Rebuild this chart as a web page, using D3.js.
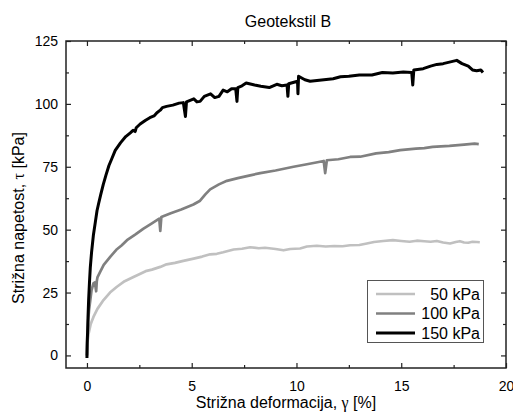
<!DOCTYPE html>
<html>
<head>
<meta charset="utf-8">
<script src="https://cdn.jsdelivr.net/npm/d3@7"></script>
<style>
  body { margin: 0; background: #fff; }
  text { font-family: "Liberation Sans", Arial, sans-serif; fill: #000; }
</style>
</head>
<body>
<div id="chart"></div>
<script>
// values: [strain %, shear stress kPa]
const series50 = [
  [0, 0], [0.02, 5], [0.08, 8.7], [0.18, 12.5], [0.31, 15.3], [0.5, 18.5], [0.79, 22],
  [1.1, 25], [1.43, 27.3], [1.8, 29.5], [2.22, 31.2], [2.5, 32.3], [2.8, 33.5], [3.1, 34.1],
  [3.5, 35.2], [3.8, 36.2], [4.2, 36.8], [4.6, 37.6], [5.09, 38.5], [5.5, 39.3], [5.88, 40.2],
  [6.2, 40.4], [6.5, 41], [7.0, 42.1], [7.4, 42.4], [7.79, 43], [8.2, 42.6], [8.5, 42.8],
  [9.0, 42.3], [9.38, 41.8], [9.7, 42.3], [10.17, 42.5], [10.5, 43.3], [10.97, 43.6],
  [11.4, 43.3], [11.8, 43.5], [12.2, 43.4], [12.56, 43.8], [13.0, 43.9], [13.36, 44.5],
  [13.7, 45.1], [14.14, 45.5], [14.6, 45.8], [15.0, 45.5], [15.4, 45.2], [15.74, 45.6],
  [16.1, 45.4], [16.4, 45.2], [16.7, 45.5], [17.0, 44.9], [17.33, 44.5], [17.6, 45.1],
  [17.8, 45.4], [18.0, 44.9], [18.2, 44.8], [18.4, 45.2], [18.6, 45.1], [18.75, 45]
];
const series100 = [
  [0, 0], [0.03, 8], [0.06, 14], [0.1, 18], [0.16, 22], [0.22, 26], [0.31, 28.6], [0.38, 29],
  [0.44, 25.5], [0.47, 29.5], [0.5, 31], [0.63, 33.2], [0.8, 36], [1.11, 39.2], [1.4, 42],
  [1.65, 43.7], [1.91, 45.8], [2.3, 48], [2.7, 50.4], [3.1, 52.5], [3.45, 54.4], [3.5, 49.5],
  [3.55, 55], [4.0, 56.5], [4.5, 58], [5.08, 60], [5.4, 61.5], [5.65, 64], [5.88, 66],
  [6.3, 68], [6.68, 69.4], [7.2, 70.5], [7.79, 71.6], [8.27, 72.5], [9.0, 73.5], [9.86, 75],
  [10.5, 76], [11.0, 76.8], [11.3, 77.3], [11.37, 72.5], [11.45, 77.6], [12.0, 78],
  [12.56, 78.9], [13.04, 79], [13.8, 80.3], [14.4, 80.8], [14.95, 81.6], [15.7, 82.2],
  [16.1, 82.4], [16.5, 82.9], [17.3, 83.3], [18.0, 83.8], [18.5, 84.2], [18.7, 84]
];
const series150 = [
  [0, -1], [0.01, 5], [0.03, 9], [0.05, 15], [0.08, 22], [0.12, 29], [0.16, 35], [0.22, 41],
  [0.31, 48], [0.4, 53], [0.48, 57.5], [0.56, 60.5], [0.66, 64], [0.78, 68], [0.9, 71.5],
  [1.05, 75.5], [1.2, 78.5], [1.35, 81.5], [1.6, 84.5], [1.85, 87], [2.07, 88.5], [2.2, 89.5],
  [2.3, 89], [2.35, 90.5], [2.54, 92], [2.8, 93.5], [3.0, 94.5], [3.2, 95.2], [3.34, 96.5],
  [3.5, 97.5], [3.6, 98.5], [3.8, 99], [4.1, 99.5], [4.4, 100.3], [4.6, 100.5], [4.7, 95],
  [4.75, 100.8], [5.1, 102], [5.25, 100.8], [5.4, 101], [5.6, 103], [5.9, 104], [6.1, 102.5],
  [6.3, 103], [6.5, 105.5], [6.7, 104.8], [6.9, 106], [7.1, 106], [7.16, 101], [7.2, 106.5],
  [7.4, 107.2], [7.6, 108.3], [8.0, 107.5], [8.3, 107], [8.7, 106.5], [9.06, 107.8],
  [9.3, 107.2], [9.55, 107.5], [9.59, 103], [9.63, 108], [10.05, 109], [10.07, 104],
  [10.1, 111], [10.4, 109.6], [10.65, 109], [11.2, 109.5], [11.75, 110], [12.1, 110.8],
  [12.5, 111], [13.0, 111.5], [13.6, 111.5], [14.1, 112.5], [14.6, 112.3], [15.1, 112.7],
  [15.5, 112.5], [15.55, 107.5], [15.6, 113.5], [16.05, 114], [16.4, 115], [16.7, 115.7],
  [17.0, 116], [17.4, 116.8], [17.65, 117.3], [17.9, 116], [18.2, 115], [18.4, 113.5],
  [18.6, 113.2], [18.8, 113.5], [18.9, 112.5]
];

const seriesLabels = ["50 kPa", "100 kPa", "150 kPa"];
const xTicks = [0, 5, 10, 15, 20];
const yTicks = [0, 25, 50, 75, 100, 125];

const chartTitle = "Geotekstil B";
const xTitle = ["Strižna deformacija, ", "γ", " [%]"];
const yTitle = ["Strižna napetost, ", "τ", " [kPa]"];

const width = 513, height = 419;
const margin = { top: 41, right: 7, bottom: 51, left: 66 };
const colors = ["#c0c0c0", "#808080", "#000000"];
const widths = [2.7, 2.7, 3];

const svg = d3.select("#chart").append("svg")
  .attr("width", width)
  .attr("height", height);

const x = d3.scaleLinear().domain([-1, 20]).range([margin.left, width - margin.right]);
const y = d3.scaleLinear().domain([-5, 125]).range([height - margin.bottom, margin.top]);

const minorX = [2.5, 7.5, 12.5, 17.5];
const minorY = d3.range(12.5, 125, 25);

const xBottom = height - margin.bottom, xTop = margin.top;
const yLeft = margin.left, yRight = width - margin.right;

// ticks point inward on all four sides, labels only bottom and left
const axes = [
  [() => d3.axisBottom(x), `translate(0,${xBottom})`, minorX, xTicks, true, 13],
  [() => d3.axisTop(x), `translate(0,${xTop})`, minorX, xTicks, false, 0],
  [() => d3.axisLeft(y), `translate(${yLeft},0)`, minorY, yTicks, true, 8],
  [() => d3.axisRight(y), `translate(${yRight},0)`, minorY, yTicks, false, 0]
];

axes.forEach(([make, tr, minor, major, labels, pad]) => {
  const gm = svg.append("g").attr("transform", tr)
    .call(make().tickValues(minor).tickSizeInner(-3).tickSizeOuter(0).tickFormat(""));
  gm.select(".domain").remove();
  gm.selectAll("line").attr("stroke", "#222").attr("stroke-width", 1.2);

  const g = svg.append("g").attr("transform", tr)
    .call(make().tickValues(major).tickSizeInner(-5).tickSizeOuter(0)
      .tickPadding(pad).tickFormat(labels ? d3.format("d") : ""));
  g.select(".domain").remove();
  g.selectAll("line").attr("stroke", "#222").attr("stroke-width", 1.2);
  g.selectAll("text").attr("font-size", 14)
    .style("font-family", '"Liberation Sans", Arial, sans-serif').attr("fill", "#111");
});

// curves
svg.append("clipPath").attr("id", "plot-clip")
  .append("rect")
  .attr("x", margin.left).attr("y", margin.top)
  .attr("width", width - margin.left - margin.right)
  .attr("height", height - margin.top - margin.bottom);

const line = d3.line().x(d => x(d[0])).y(d => y(d[1]));

svg.append("g").attr("clip-path", "url(#plot-clip)")
  .selectAll("path")
  .data([series50, series100, series150])
  .enter()
  .append("path")
  .attr("d", line)
  .attr("fill", "none")
  .attr("stroke", (d, i) => colors[i])
  .attr("stroke-width", (d, i) => widths[i])
  .attr("stroke-linejoin", "round");

// frame
svg.append("rect")
  .attr("x", margin.left).attr("y", margin.top)
  .attr("width", width - margin.left - margin.right)
  .attr("height", height - margin.top - margin.bottom)
  .attr("fill", "none")
  .attr("stroke", "#222")
  .attr("stroke-width", 1.5);

// titles
svg.append("text")
  .attr("x", 288).attr("y", 27)
  .attr("text-anchor", "middle")
  .attr("font-size", 16)
  .text(chartTitle);

function titleText(sel, parts) {
  sel.append("tspan").text(parts[0]);
  sel.append("tspan").text(parts[1])
    .style("font-family", '"Liberation Serif", "DejaVu Serif", serif');
  sel.append("tspan").text(parts[2]);
}

svg.append("text")
  .attr("x", 286).attr("y", 408)
  .attr("text-anchor", "middle")
  .attr("font-size", 16)
  .call(titleText, xTitle);

svg.append("text")
  .attr("transform", "translate(24,218) rotate(-90)")
  .attr("text-anchor", "middle")
  .attr("font-size", 16)
  .call(titleText, yTitle);

// legend
const legend = svg.append("g");
legend.append("rect")
  .attr("x", 367.5).attr("y", 280.5)
  .attr("width", 116).attr("height", 62)
  .attr("fill", "#fff")
  .attr("stroke", "#555")
  .attr("stroke-width", 1);

const rows = legend.selectAll("g.row")
  .data(seriesLabels)
  .enter()
  .append("g")
  .attr("class", "row")
  .attr("transform", (d, i) => `translate(0,${294 + i * 19.5})`);

rows.append("line")
  .attr("x1", 376).attr("x2", 415)
  .attr("stroke", (d, i) => colors[i])
  .attr("stroke-width", (d, i) => widths[i]);

rows.append("text")
  .attr("x", 480)
  .attr("dy", "0.36em")
  .attr("text-anchor", "end")
  .attr("font-size", 16)
  .text(d => d);
</script>
</body>
</html>
